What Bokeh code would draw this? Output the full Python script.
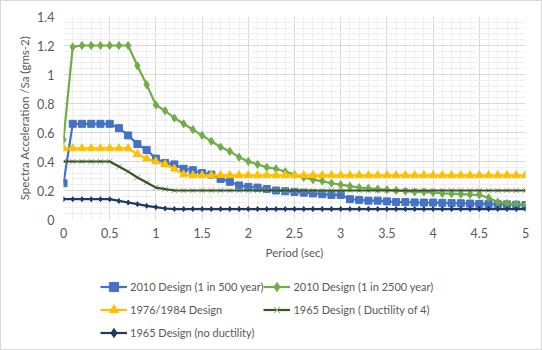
from bokeh.plotting import figure
from bokeh.layouts import column
from bokeh.models import Legend, LegendItem, FixedTicker, Range1d
from bokeh.embed import file_html
from bokeh.resources import INLINE

period = [round(i * 0.1, 1) for i in range(51)]

design_2010_500 = [0.25, 0.66, 0.66, 0.66, 0.66, 0.66, 0.63, 0.58, 0.52, 0.48,
                   0.42, 0.39, 0.38, 0.35, 0.34, 0.32, 0.31, 0.28, 0.26, 0.235,
                   0.225, 0.22, 0.21, 0.20, 0.195, 0.19, 0.185, 0.18, 0.175, 0.17,
                   0.17, 0.14, 0.135, 0.13, 0.13, 0.125, 0.12, 0.12, 0.118, 0.117,
                   0.117, 0.115, 0.113, 0.112, 0.11, 0.108, 0.106, 0.105, 0.104, 0.102,
                   0.10]
design_2010_2500 = [0.55, 1.19, 1.20, 1.20, 1.20, 1.20, 1.20, 1.20, 1.06, 0.93,
                    0.79, 0.75, 0.70, 0.66, 0.62, 0.58, 0.54, 0.50, 0.47, 0.43,
                    0.40, 0.38, 0.36, 0.35, 0.33, 0.31, 0.29, 0.275, 0.265, 0.25,
                    0.24, 0.23, 0.22, 0.215, 0.21, 0.205, 0.20, 0.195, 0.19, 0.19,
                    0.185, 0.18, 0.178, 0.175, 0.172, 0.17, 0.15, 0.12, 0.11, 0.105,
                    0.10]
design_1976_1984 = [0.49, 0.49, 0.49, 0.49, 0.49, 0.49, 0.49, 0.49, 0.45, 0.42,
                    0.40, 0.38, 0.35, 0.31] + [0.305] * 37
design_1965_ductility4 = [0.40, 0.40, 0.40, 0.40, 0.40, 0.40, 0.365, 0.33, 0.29, 0.255,
                          0.22, 0.21] + [0.20] * 39
design_1965_noductility = [0.14, 0.14, 0.14, 0.14, 0.14, 0.14, 0.128, 0.117, 0.106, 0.094,
                           0.085, 0.076] + [0.072] * 39

series_names = ["2010 Design (1 in 500 year)", "2010 Design (1 in 2500 year)",
                "1976/1984 Design", "1965 Design ( Ductility of 4)",
                "1965 Design (no ductility)"]

x_ticks = [0, 0.5, 1, 1.5, 2, 2.5, 3, 3.5, 4, 4.5, 5]
x_tick_labels = ["0", "0.5", "1", "1.5", "2", "2.5", "3", "3.5", "4", "4.5", "5"]
y_ticks = [0, 0.2, 0.4, 0.6, 0.8, 1.0, 1.2, 1.4]
y_tick_labels = ["0", "0.2", "0.4", "0.6", "0.8", "1", "1.2", "1.4"]

FONT = "Lato"
GREY = "#595959"
BORDER = "1px solid #d9d9d9"

blue = "#4472C4"
green = "#70AD47"
yellow = "#FFC000"
dgreen = "#375623"
navy = "#203864"
xgrey = "#98a68c"

# ---------------- main chart ----------------
p = figure(width=542, height=264, output_backend="svg", toolbar_location=None,
           x_range=Range1d(0, 5), y_range=Range1d(0, 1.4))
p.min_border_left = 62
p.min_border_right = 18
p.min_border_top = 15
p.min_border_bottom = 46
p.outline_line_color = None
p.background_fill_color = "white"
p.border_fill_color = "white"
p.styles = {"border-left": BORDER, "border-right": BORDER, "border-top": BORDER,
            "box-sizing": "border-box"}

p.xaxis.ticker = FixedTicker(ticks=x_ticks, minor_ticks=[round(i * 0.1, 1) for i in range(51)])
p.yaxis.ticker = FixedTicker(ticks=y_ticks, minor_ticks=[round(i * 0.04, 2) for i in range(36)])
p.xaxis.major_label_overrides = {t: l for t, l in zip(x_ticks, x_tick_labels)}
p.yaxis.major_label_overrides = {t: l for t, l in zip(y_ticks, y_tick_labels)}

for ax in (p.xaxis, p.yaxis):
    ax.axis_line_color = None
    ax.major_tick_line_color = None
    ax.minor_tick_line_color = None
    ax.major_tick_out = 0
    ax.minor_tick_out = 0
    ax.major_label_text_font = FONT
    ax.major_label_text_font_size = "12.5px"
    ax.major_label_text_color = GREY
    ax.axis_label_text_font = FONT
    ax.axis_label_text_font_size = "11.5px"
    ax.axis_label_text_font_style = "normal"
    ax.axis_label_text_color = GREY

p.xaxis.axis_label = "Period (sec)"
p.yaxis.axis_label = "Spectra Acceleration /Sa (gms-2)"
p.xaxis.major_label_standoff = 8
p.xaxis.axis_label_standoff = 5
p.yaxis.major_label_standoff = 9
p.yaxis.axis_label_standoff = 3

p.grid.grid_line_color = "#d9d9d9"
p.grid.minor_grid_line_color = "#efefef"


def draw(fig):
    r1 = fig.line(period, design_2010_500, line_color=blue, line_width=2.2)
    m1 = fig.scatter(period, design_2010_500, marker="square", size=7, fill_color=blue, line_color=blue)
    r2 = fig.line(period, design_2010_2500, line_color=green, line_width=2.2)
    m2 = fig.scatter(period, design_2010_2500, marker="diamond", size=8, fill_color=green, line_color=green)
    r3 = fig.line(period, design_1976_1984, line_color=yellow, line_width=2.2)
    m3 = fig.scatter(period, design_1976_1984, marker="triangle", size=8, fill_color=yellow, line_color=yellow)
    m4 = fig.scatter(period, design_1965_ductility4, marker="x", size=8, line_color=xgrey, line_width=1)
    r4 = fig.line(period, design_1965_ductility4, line_color=dgreen, line_width=2.2)
    r5 = fig.line(period, design_1965_noductility, line_color=navy, line_width=2.2)
    m5 = fig.scatter(period, design_1965_noductility, marker="diamond", size=5, fill_color=navy, line_color=navy)
    return [[r1, m1], [r2, m2], [r3, m3], [r4, m4], [r5, m5]]


draw(p)

# ---------------- legend strip ----------------
q = figure(width=542, height=86, output_backend="svg", toolbar_location=None,
           x_range=Range1d(100, 101), y_range=Range1d(100, 101),
           x_axis_type=None, y_axis_type=None)
q.min_border = 0
q.outline_line_color = None
q.grid.visible = False
q.border_fill_color = "white"
q.background_fill_color = "white"
q.styles = {"border-left": BORDER, "border-right": BORDER, "border-bottom": BORDER,
            "box-sizing": "border-box"}

rends = draw(q)
order = [0, 2, 4, 1, 3]  # column-major fill -> row-major appearance
items = [LegendItem(label=series_names[i], renderers=rends[i]) for i in order]

legend = Legend(items=items, location=(37, 6), ncols=2,
                label_text_font=FONT, label_text_font_size="11px", label_text_color=GREY,
                glyph_width=27, glyph_height=23, label_standoff=3, spacing=0,
                padding=10, margin=0, border_line_color=None, background_fill_alpha=0)
q.add_layout(legend, "center")

layout = column(p, q, spacing=0)
open("out.html", "w").write(file_html(layout, INLINE))
